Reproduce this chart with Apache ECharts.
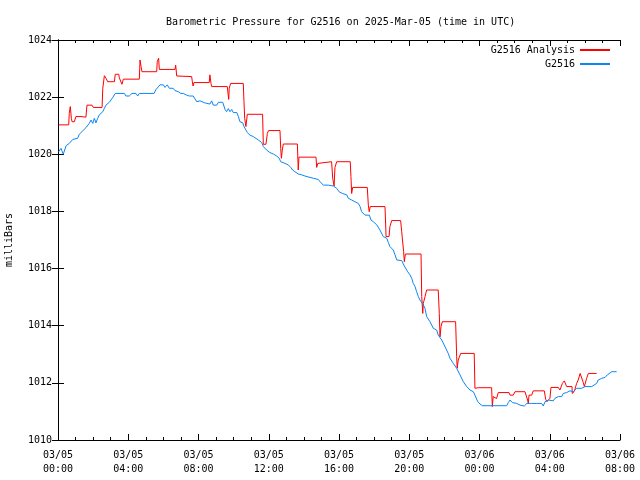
<!DOCTYPE html>
<html>
<head>
<meta charset="utf-8">
<script src="https://cdn.jsdelivr.net/npm/echarts@6/dist/echarts.min.js"></script>
<style>html,body{margin:0;padding:0;background:#fff}#c{width:640px;height:480px}</style>
</head>
<body>
<div id="c"></div>
<script>
// Observations (hours since 03/05 00:00 UTC, millibars)
const obsSeries = [
[0.04,1020.09],[0.17,1020.21],[0.30,1020.0],[0.46,1020.30],[0.64,1020.38],[0.84,1020.52],[1.12,1020.56],[1.21,1020.70],
[1.41,1020.82],[1.59,1020.93],[1.78,1021.08],[1.88,1021.2],[1.98,1021.08],[2.07,1021.26],[2.16,1021.1],[2.26,1021.26],
[2.35,1021.38],[2.55,1021.49],[2.64,1021.61],[2.73,1021.72],[2.92,1021.82],[3.11,1021.98],[3.26,1022.13],[3.78,1022.13],
[3.87,1022.04],[4.06,1022.04],[4.21,1022.13],[4.44,1022.13],[4.54,1022.04],[4.63,1022.13],[5.47,1022.13],[5.58,1022.27],
[5.81,1022.43],[6.00,1022.43],[6.09,1022.34],[6.22,1022.43],[6.34,1022.31],[6.56,1022.31],[6.66,1022.23],[6.85,1022.19],
[6.99,1022.13],[7.13,1022.13],[7.33,1022.07],[7.42,1022.13],[7.48,1022.04],[7.70,1022.04],[7.90,1021.84],[8.09,1021.87],
[8.27,1021.82],[8.37,1021.87],[8.47,1021.78],[8.65,1021.76],[8.75,1021.87],[8.84,1021.72],[9.04,1021.72],[9.13,1021.82],
[9.38,1021.82],[9.51,1021.57],[9.60,1021.49],[9.70,1021.6],[9.79,1021.49],[9.89,1021.57],[9.98,1021.46],[10.18,1021.46],
[10.27,1021.32],[10.36,1021.14],[10.52,1021.1],[10.59,1020.97],[10.70,1020.85],[10.78,1020.76],[10.93,1020.67],[11.12,1020.62],
[11.22,1020.56],[11.41,1020.5],[11.60,1020.41],[11.69,1020.27],[11.79,1020.21],[11.88,1020.15],[11.97,1020.2],[12.07,1020.06],
[12.26,1020.01],[12.45,1019.94],[12.60,1019.86],[12.68,1019.74],[12.93,1019.68],[13.11,1019.63],[13.25,1019.54],[13.36,1019.45],
[13.49,1019.39],[13.68,1019.31],[13.88,1019.28],[14.06,1019.24],[14.16,1019.28],[14.35,1019.19],[14.54,1019.16],[14.82,1019.12],
[14.92,1019.04],[15.11,1018.92],[15.39,1018.92],[15.68,1018.89],[15.77,1018.92],[15.87,1018.81],[16.00,1018.69],[16.19,1018.63],
[16.44,1018.58],[16.53,1018.46],[16.72,1018.4],[16.91,1018.34],[17.10,1018.28],[17.20,1018.17],[17.29,1017.99],[17.48,1017.87],
[17.58,1017.82],[17.73,1017.87],[17.82,1017.7],[17.95,1017.64],[18.15,1017.53],[18.33,1017.35],[18.52,1017.12],[18.72,1017.06],
[18.81,1016.91],[18.90,1016.77],[19.09,1016.65],[19.19,1016.48],[19.29,1016.3],[19.57,1016.28],[19.72,1016.09],[19.91,1015.89],
[20.04,1015.78],[20.14,1015.66],[20.23,1015.48],[20.33,1015.37],[20.42,1015.19],[20.52,1015.02],[20.61,1014.9],[20.80,1014.73],
[20.90,1014.6],[20.99,1014.32],[21.18,1014.14],[21.37,1013.91],[21.56,1013.85],[21.65,1013.67],[21.85,1013.5],[22.04,1013.26],
[22.22,1013.03],[22.32,1012.86],[22.51,1012.68],[22.70,1012.51],[22.89,1012.28],[23.08,1012.04],[23.27,1011.87],[23.46,1011.75],
[23.65,1011.69],[23.74,1011.57],[23.90,1011.34],[24.03,1011.26],[24.16,1011.2],[25.55,1011.2],[25.64,1011.31],[25.74,1011.4],
[25.87,1011.31],[26.12,1011.28],[26.31,1011.22],[26.40,1011.28],[26.55,1011.19],[26.70,1011.28],[26.97,1011.28],[27.06,1011.22],
[27.26,1011.28],[27.54,1011.28],[27.63,1011.19],[27.73,1011.34],[27.92,1011.4],[28.01,1011.46],[28.20,1011.37],[28.30,1011.46],
[28.49,1011.52],[28.58,1011.46],[28.68,1011.52],[28.77,1011.63],[28.96,1011.66],[29.15,1011.72],[29.34,1011.69],[29.53,1011.81],
[29.82,1011.81],[30.01,1011.87],[30.39,1011.87],[30.48,1011.92],[30.67,1011.98],[30.76,1012.1],[30.96,1012.16],[31.15,1012.19],
[31.28,1012.28],[31.53,1012.39],[31.81,1012.39]
];
// Analysis (hours since 03/05 00:00 UTC, millibars)
const analysisSeries = [
[0.04,1021.03],[0.61,1021.03],[0.64,1021.43],[0.70,1021.67],[0.76,1021.26],[0.80,1021.14],[0.93,1021.14],[1.02,1021.32],
[1.31,1021.32],[1.37,1021.3],[1.59,1021.3],[1.65,1021.72],[1.94,1021.72],[2.01,1021.64],[2.51,1021.64],[2.55,1022.31],
[2.64,1022.75],[2.73,1022.66],[2.83,1022.54],[3.21,1022.54],[3.26,1022.8],[3.46,1022.8],[3.49,1022.68],[3.64,1022.45],
[3.72,1022.63],[4.63,1022.63],[4.67,1023.3],[4.73,1023.07],[4.78,1022.89],[5.62,1022.89],[5.65,1023.24],[5.73,1023.36],
[5.77,1022.97],[6.66,1022.97],[6.70,1023.12],[6.76,1022.74],[7.61,1022.72],[7.65,1022.54],[7.69,1022.39],[7.74,1022.51],
[8.61,1022.51],[8.65,1022.78],[8.71,1022.48],[8.75,1022.37],[9.64,1022.37],[9.68,1022.13],[9.72,1021.92],[9.75,1022.31],
[9.83,1022.48],[10.55,1022.48],[10.59,1021.84],[10.63,1021.26],[10.70,1020.97],[10.78,1021.4],[11.65,1021.4],[11.69,1020.35],
[11.84,1020.35],[11.92,1020.73],[11.99,1020.83],[12.64,1020.83],[12.68,1020.21],[12.72,1019.86],[12.77,1020.15],[12.83,1020.36],
[13.63,1020.36],[13.68,1019.45],[13.72,1019.9],[14.69,1019.9],[14.73,1019.54],[14.79,1019.68],[14.86,1019.74],[15.58,1019.74],
[15.64,1019.16],[15.72,1018.89],[15.77,1019.54],[15.87,1019.74],[16.64,1019.74],[16.68,1019.22],[16.72,1018.63],[16.78,1018.84],
[17.61,1018.84],[17.67,1018.22],[17.72,1017.99],[17.78,1018.17],[18.62,1018.17],[18.68,1017.12],[18.85,1017.12],[18.90,1017.47],
[19.00,1017.68],[19.51,1017.68],[19.57,1017.29],[19.68,1016.59],[19.72,1016.24],[19.78,1016.51],[20.67,1016.51],[20.71,1015.02],
[20.77,1014.43],[20.80,1014.78],[20.90,1015.02],[20.99,1015.25],[21.65,1015.25],[21.71,1014.43],[21.75,1013.61],[21.81,1013.97],
[21.88,1014.14],[22.64,1014.14],[22.70,1012.92],[22.73,1012.51],[22.79,1012.8],[22.93,1013.03],[23.70,1013.03],[23.74,1011.81],
[23.84,1011.87],[23.93,1011.83],[24.69,1011.83],[24.73,1011.17],[24.78,1011.52],[24.97,1011.45],[25.07,1011.66],[25.68,1011.66],
[25.74,1011.57],[25.92,1011.57],[26.02,1011.69],[26.59,1011.69],[26.69,1011.63],[26.74,1011.4],[26.78,1011.28],[26.82,1011.57],
[26.97,1011.57],[27.06,1011.72],[27.69,1011.72],[27.77,1011.42],[27.84,1011.34],[27.92,1011.4],[28.01,1011.46],[28.07,1011.84],
[28.49,1011.84],[28.58,1011.75],[28.72,1011.98],[28.83,1012.07],[28.90,1012.07],[28.96,1011.87],[29.27,1011.87],[29.28,1011.63],
[29.40,1011.7],[29.53,1011.98],[29.62,1012.1],[29.73,1012.33],[29.78,1012.3],[29.91,1012.01],[29.97,1011.87],[30.01,1011.9],
[30.10,1012.16],[30.20,1012.33],[30.67,1012.33]
];
const seriesNames = ['G2516 Analysis', 'G2516'];
const dayLabels = ['03/05', '03/06'];
const titleText = 'Barometric Pressure for G2516 on 2025-Mar-05 (time in UTC)';
const yName = 'milliBars';

const FONT = 'DejaVu Sans Mono';
function xLabel(h) {
  const d = Math.floor(h / 24);
  const hh = h % 24;
  return dayLabels[d] + '\n' + (hh < 10 ? '0' : '') + hh + ':00';
}
const chart = echarts.init(document.getElementById('c'), null, {renderer: 'canvas'});
const axisLine = {show: true, lineStyle: {color: '#000', width: 1}};
const tick = {show: true, inside: true, length: 6, lineStyle: {color: '#000'}};
chart.setOption({
  animation: false,
  backgroundColor: '#fff',
  title: {
    text: titleText, left: 161, top: 12,
    textStyle: {fontFamily: FONT, fontSize: 10, fontWeight: 'normal', color: '#000'}
  },
  legend: [
    {data: [seriesNames[0]], right: 30, top: 45, align: 'right', orient: 'vertical', itemWidth: 30, itemHeight: 2, icon: 'rect', padding: 0,
     textStyle: {fontFamily: FONT, fontSize: 10, color: '#000'}},
    {data: [seriesNames[1]], right: 30, top: 59, align: 'right', orient: 'vertical', itemWidth: 30, itemHeight: 2, icon: 'rect', padding: 0,
     textStyle: {fontFamily: FONT, fontSize: 10, color: '#000'}}
  ],
  grid: {left: 58, right: 20, top: 40, bottom: 40, containLabel: false, outerBoundsMode: 'none'},
  xAxis: [
    {type: 'value', min: 0, max: 32, interval: 4, position: 'bottom',
     axisLine: axisLine, axisTick: tick, splitLine: {show: false},
     minorTick: {show: true, splitNumber: 4, length: 3, lineStyle: {color: '#000'}},
     axisLabel: {formatter: xLabel, fontFamily: FONT, fontSize: 10, color: '#000', margin: 8, lineHeight: 14}},
    {type: 'value', min: 0, max: 32, interval: 4, position: 'top',
     axisLine: axisLine, axisTick: tick, splitLine: {show: false},
     minorTick: {show: true, splitNumber: 4, length: 3, lineStyle: {color: '#000'}},
     axisLabel: {show: false}}
  ],
  yAxis: [
    {type: 'value', min: 1010, max: 1024, interval: 2, position: 'left',
     name: yName, nameLocation: 'middle', nameGap: 44,
     nameTextStyle: {fontFamily: FONT, fontSize: 10, color: '#000'},
     axisLine: axisLine, axisTick: tick, splitLine: {show: false},
     axisLabel: {formatter: v => String(v), fontFamily: FONT, fontSize: 10, color: '#000', margin: 6}},
    {type: 'value', min: 1010, max: 1024, interval: 2, position: 'right',
     axisLine: axisLine, axisTick: tick, splitLine: {show: false}, axisLabel: {show: false}}
  ],
  series: [
    {name: seriesNames[0], type: 'line', data: analysisSeries, showSymbol: false, symbol: 'none',
     lineStyle: {color: '#ff0000', width: 1}, itemStyle: {color: '#ff0000'}, xAxisIndex: 0, yAxisIndex: 0},
    {name: seriesNames[1], type: 'line', data: obsSeries, showSymbol: false, symbol: 'none',
     lineStyle: {color: '#0a86f5', width: 1}, itemStyle: {color: '#0a86f5'}, xAxisIndex: 0, yAxisIndex: 0}
  ]
});
</script>
</body>
</html>
